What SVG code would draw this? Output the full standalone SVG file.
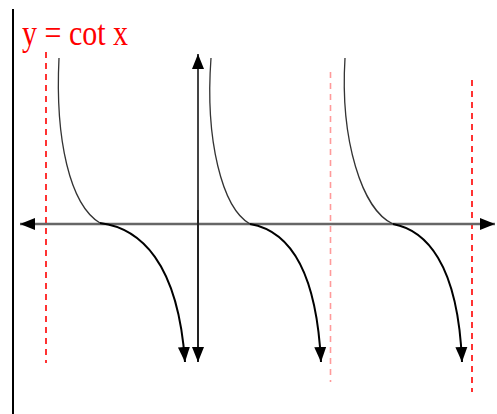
<svg xmlns="http://www.w3.org/2000/svg" width="497" height="414" viewBox="0 0 497 414">
<style>
.asym{stroke-dasharray:6,5;stroke-width:1.6;fill:none}
.up{fill:none;stroke:#333;stroke-width:1.3}
.lo{fill:none;stroke:#000;stroke-width:2}
.axis{fill:none;stroke:#666;stroke-width:2.5}
.title{font-family:"Liberation Serif","Times New Roman",serif;font-size:36px;fill:#ff0000}
</style>
<defs>
<marker id="ah" markerUnits="userSpaceOnUse" markerWidth="16" markerHeight="14" viewBox="0 0 16 14" refX="15" refY="7" orient="auto-start-reverse">
<path d="M0,1 L15,7 L0,13 z" fill="#000"/>
</marker>
</defs>
<rect width="497" height="414" fill="#fff"/>
<line x1="13" y1="9" x2="13" y2="414" stroke="#000" stroke-width="2"/>
<g id="title"><text class="title" x="22" y="45" textLength="106" lengthAdjust="spacingAndGlyphs">y = cot x</text></g>
<g id="asymptotes">
<line class="asym" x1="46" y1="52" x2="46" y2="363" stroke="#ff0000"/>
<line class="asym" x1="330.5" y1="72" x2="330.5" y2="382" stroke="#ff9a9a"/>
<line class="asym" x1="472" y1="80" x2="472" y2="392" stroke="#ff0000"/>
</g>
<g id="axes">
<line class="axis" x1="20" y1="224" x2="495" y2="224" marker-start="url(#ah)" marker-end="url(#ah)"/>
<line x1="198" y1="210" x2="198" y2="54" stroke="#444" stroke-width="2" marker-end="url(#ah)"/>
<line x1="198" y1="210" x2="198" y2="362" stroke="#222" stroke-width="2" marker-end="url(#ah)"/>
</g>
<g id="curves">
<path class="up" d="M59,58 C55,140 70,205 100,223"/>
<path class="lo" d="M100,223 C140,228 178,262 185,362" marker-end="url(#ah)"/>
<path class="up" d="M211,58 C205,140 222,208 250,224"/>
<path class="lo" d="M250,224 C285,230 316,262 321,362" marker-end="url(#ah)"/>
<path class="up" d="M345,58 C340,140 362,210 393,224"/>
<path class="lo" d="M393,224 C425,230 458,262 462,362" marker-end="url(#ah)"/>
</g>
</svg>
